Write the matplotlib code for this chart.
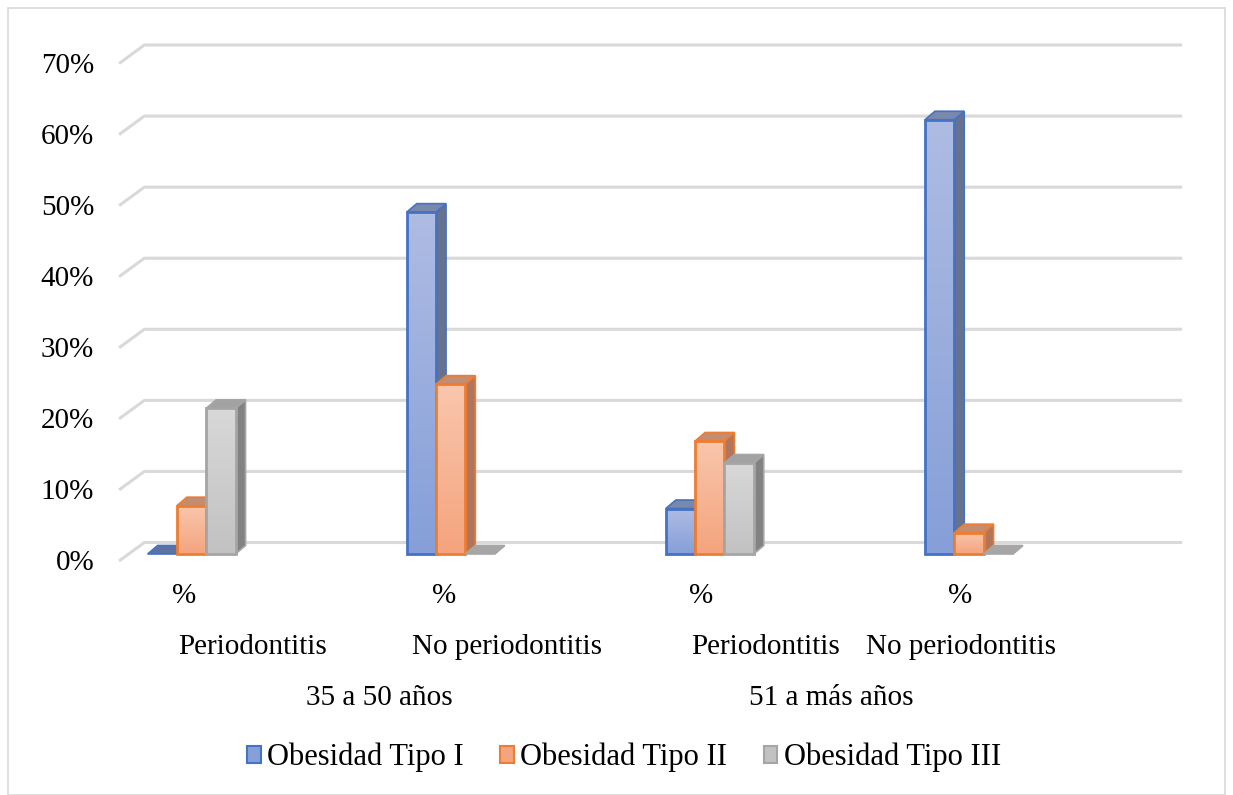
import numpy as np
import matplotlib
matplotlib.use("Agg")
import matplotlib.pyplot as plt
from matplotlib.patches import Rectangle, Polygon, Patch

# ---- data -------------------------------------------------------------
series = ["Obesidad Tipo I", "Obesidad Tipo II", "Obesidad Tipo III"]
tipo_1 = [0.0, 48.1, 6.4, 61.1]
tipo_2 = [6.8, 23.9, 15.9, 3.0]
tipo_3 = [20.5, 0.0, 12.8, 0.0]
level1 = ["%", "%", "%", "%"]
level2 = ["Periodontitis", "No periodontitis", "Periodontitis", "No periodontitis"]
level3 = ["35 a 50 años", "51 a más años"]
yticks = [0, 10, 20, 30, 40, 50, 60, 70]
ytick_labels = [f"{t}%" for t in yticks]

# ---- style -------------------------------------------------------------
FONT = ["Liberation Serif", "DejaVu Serif"]
FS = 21
front_top = ["#aebce3", "#f9c6ac", "#d8d8d8"]
front_bot = ["#869fd8", "#f4a47e", "#c2c2c2"]
edge = ["#4472c4", "#ed7d31", "#a5a5a5"]
side = ["#66728f", "#b0755a", "#828282"]
top = ["#7a88ab", "#c48c70", "#a2a2a2"]
grid_c = "#d9d9d9"

DPI = 100
W, H = 1233, 795
fig = plt.figure(figsize=(W / DPI, H / DPI), dpi=DPI)
ax = fig.add_axes([0, 0, 1, 1])
ax.set_axis_off()
XLIM = (-0.7394, 4.0193)
YLIM = (-33.91, 77.95)
ax.set_xlim(*XLIM)
ax.set_ylim(*YLIM)
ax.set_aspect("auto")

# pixels per data unit
sx = W / (XLIM[1] - XLIM[0])
sy = H / (YLIM[1] - YLIM[0])

def px(dx, dy):
    return dx / sx, dy / sy

# depth offsets (in pixels) of the bar body, back wall and floor front edge
bar_dx, bar_dy = px(10.0, 8.5)
back_dx, back_dy = px(15.7, 11.5)
floor_dx, floor_dy = px(-9.6, -7.0)
wall_left, wall_right = -0.2428, 3.762

# ---- walls / gridlines ---------------------------------------------------
for t in yticks:
    xs = [wall_left + floor_dx, wall_left + back_dx, wall_right + back_dx]
    ys = [t + floor_dy, t + back_dy, t + back_dy]
    ax.plot(xs, ys, color=grid_c, lw=2.2, solid_capstyle="butt", zorder=1)

for t, lab in zip(yticks, ytick_labels):
    ax.text(-0.376, t + floor_dy - 2.0 / sy, lab, ha="right", va="center",
            fontsize=FS, family=FONT, color="#000000")

# ---- 3-D style columns -------------------------------------------------------
bw = 29.3 / sx
x = np.arange(len(tipo_1))
values = [tipo_1, tipo_2, tipo_3]
grad = np.linspace(0, 1, 64).reshape(-1, 1)

for s, vals in enumerate(values):
    cmap = matplotlib.colors.LinearSegmentedColormap.from_list(
        f"g{s}", [front_bot[s], front_top[s]])
    for i, v in enumerate(vals):
        x0 = x[i] + (s - 1) * bw - bw / 2
        x1 = x0 + bw
        zo = 3 + s * 0.1
        # side face
        side_poly = Polygon([(x1, 0), (x1 + bar_dx, bar_dy), (x1 + bar_dx, v + bar_dy), (x1, v)],
                            closed=True, facecolor=side[s], edgecolor=edge[s], lw=1.2,
                            zorder=zo)
        ax.add_patch(side_poly)
        # top face (a flat footprint on the floor when the value is zero)
        if v > 0:
            tf, te = top[s], edge[s]
        else:
            tf = "#5d72a4" if s == 0 else "#a6a6a6"
            te = edge[s] if s == 0 else "#a6a6a6"
        top_poly = Polygon([(x0, v), (x1, v), (x1 + bar_dx, v + bar_dy), (x0 + bar_dx, v + bar_dy)],
                           closed=True, facecolor=tf, edgecolor=te, lw=1.2, zorder=zo)
        ax.add_patch(top_poly)
        if v > 0:
            rect = Rectangle((x0, 0), bw, v, facecolor="none", edgecolor=edge[s],
                             lw=2.0, zorder=zo + 0.02)
            ax.add_patch(rect)
            im = ax.imshow(grad, extent=(x0, x1, 0, v), origin="lower", cmap=cmap,
                           aspect="auto", zorder=zo + 0.01, interpolation="bilinear")
            im.set_clip_path(rect)

# ---- category labels ---------------------------------------------------------
for xi, lab in zip([-0.027, 0.973, 1.967, 2.966], level1):
    ax.text(xi, -5.9, lab, ha="center", va="center", fontsize=FS, family=FONT)
for xi, lab in zip([0.2335, 1.218, 2.217, 2.970], level2):
    ax.text(xi, -13.1, lab, ha="center", va="center", fontsize=FS, family=FONT)
for xi, lab in zip([0.7256, 2.468], level3):
    ax.text(xi, -20.3, lab, ha="center", va="center", fontsize=FS, family=FONT)

# ---- legend ----------------------------------------------------------------------
handles = [Patch(facecolor=front_bot[s], edgecolor=edge[s], lw=1.5, label=series[s])
           for s in range(3)]
fig.legend(handles=handles, loc="center", bbox_to_anchor=(0.506, 0.047), ncol=3,
           frameon=False, prop={"family": FONT, "size": 22}, handlelength=0.45,
           handleheight=0.45, handletextpad=0.2, columnspacing=1.2, borderpad=0)

# chart border
fig.add_artist(Rectangle((8 / W, 0), (W - 16) / W, (H - 8) / H, transform=fig.transFigure,
                         facecolor="none", edgecolor=grid_c, lw=1.2))

ax.set_xlim(*XLIM)
ax.set_ylim(*YLIM)
fig.savefig("out.png", dpi=DPI, facecolor="white")
